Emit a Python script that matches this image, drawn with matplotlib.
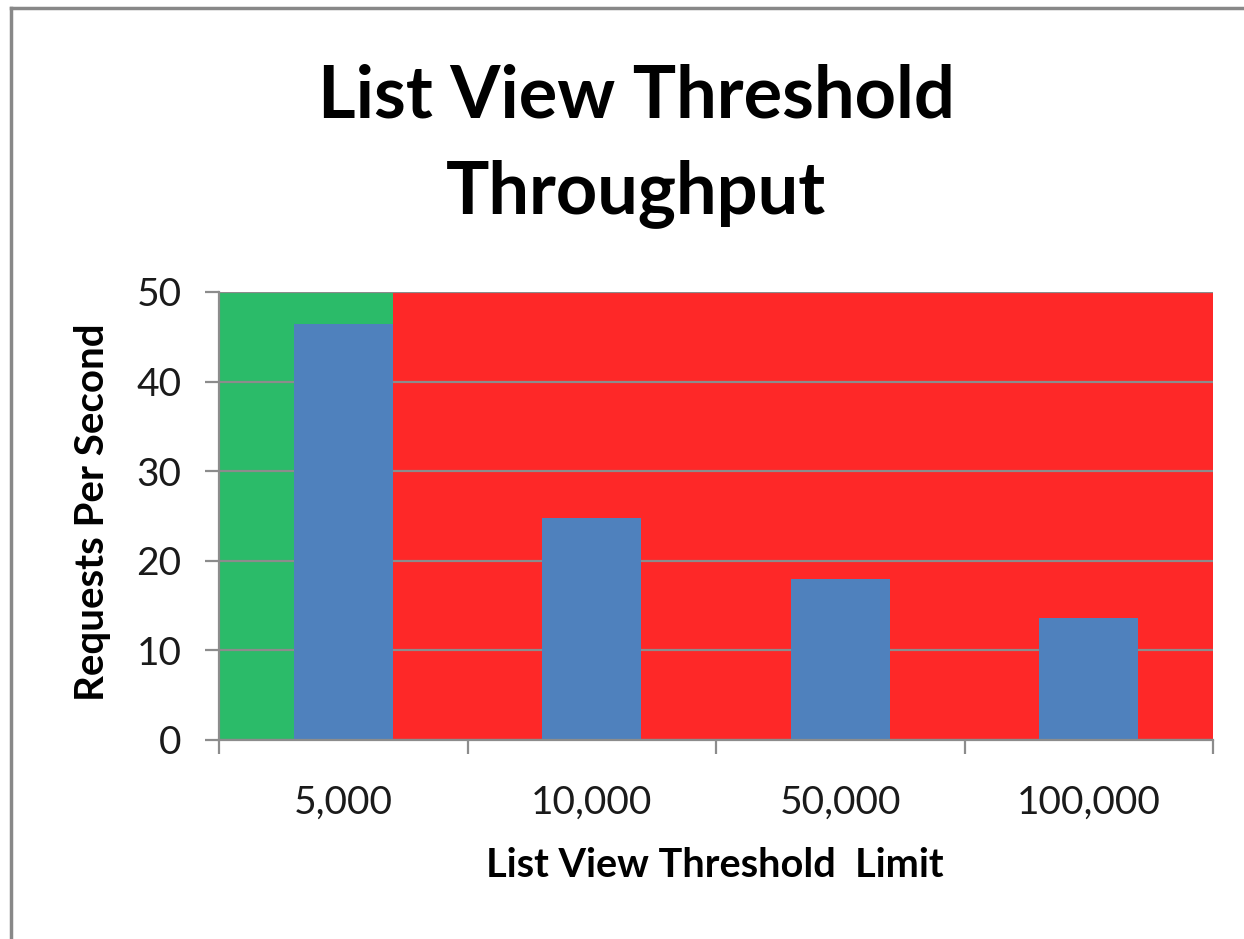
import matplotlib
matplotlib.use("Agg")
import matplotlib.pyplot as plt
from matplotlib.lines import Line2D

categories = ["5,000", "10,000", "50,000", "100,000"]
requests_per_second = [46.4, 24.8, 18.0, 13.6]
y_ticks = [0, 10, 20, 30, 40, 50]

FONT = ["Lato", "DejaVu Sans"]
BAR_COLOR = "#4F81BD"
GREEN = "#2BBB69"
RED = "#FE2828"
GRID = "#8C8C8C"

fig = plt.figure(figsize=(12.44, 9.39), dpi=100)
ax = fig.add_axes([219/1244, 1 - 740/939, (1213 - 219)/1244, (740 - 292)/939])

x = list(range(len(categories)))
bar_w = 0.4
ax.set_xlim(-0.5, len(categories) - 0.5)
ax.set_ylim(0, 50)

# background zones
ax.axvspan(-0.5, x[0] + bar_w / 2, color=GREEN, zorder=0.1, lw=0)
ax.axvspan(x[0] + bar_w / 2, len(categories) - 0.5, color=RED, zorder=0.1, lw=0)

ax.set_axisbelow(True)
ax.yaxis.grid(True, color=GRID, lw=1.6)
ax.bar(x, requests_per_second, width=bar_w, color=BAR_COLOR, zorder=2)

ax.set_yticks(y_ticks)
ax.set_yticklabels([str(v) for v in y_ticks], fontsize=28, family=FONT, color="#1a1a1a")
ax.tick_params(axis="y", length=10, width=1.6, color=GRID, pad=17)

ax.set_xticks(x)
ax.set_xticklabels(categories, fontsize=28, family=FONT, color="#1a1a1a")
ax.set_xticks([i - 0.5 for i in range(len(categories) + 1)], minor=True)
ax.tick_params(axis="x", which="major", length=0, pad=32)
ax.tick_params(axis="x", which="minor", length=10, width=1.6, color=GRID)

for s in ["top", "right"]:
    ax.spines[s].set_visible(False)
for s in ["left", "bottom"]:
    ax.spines[s].set_color(GRID)
    ax.spines[s].set_linewidth(1.6)

fig.text(636/1244, 1 - 118/939, "List View Threshold", ha="center", va="baseline",
         fontsize=52, fontweight="bold", family=FONT)
fig.text(636/1244, 1 - 213/939, "Throughput", ha="center", va="baseline",
         fontsize=52, fontweight="bold", family=FONT)
fig.text(715/1244, 1 - 877/939, "List View Threshold  Limit", ha="center", va="baseline",
         fontsize=28.5, fontweight="bold", family=FONT)
fig.text(93/1244, 1 - 512/939, "Requests Per Second", ha="center", va="center",
         rotation=90, fontsize=29, fontweight="bold", family=FONT)

# outer chart border (top and left)
fig.add_artist(Line2D([11/1244, 1], [1 - 8/939, 1 - 8/939], transform=fig.transFigure,
                      color="#888888", lw=2.5))
fig.add_artist(Line2D([11/1244, 11/1244], [0, 1 - 8/939], transform=fig.transFigure,
                      color="#888888", lw=2.5))

fig.savefig("out.png", dpi=100)
